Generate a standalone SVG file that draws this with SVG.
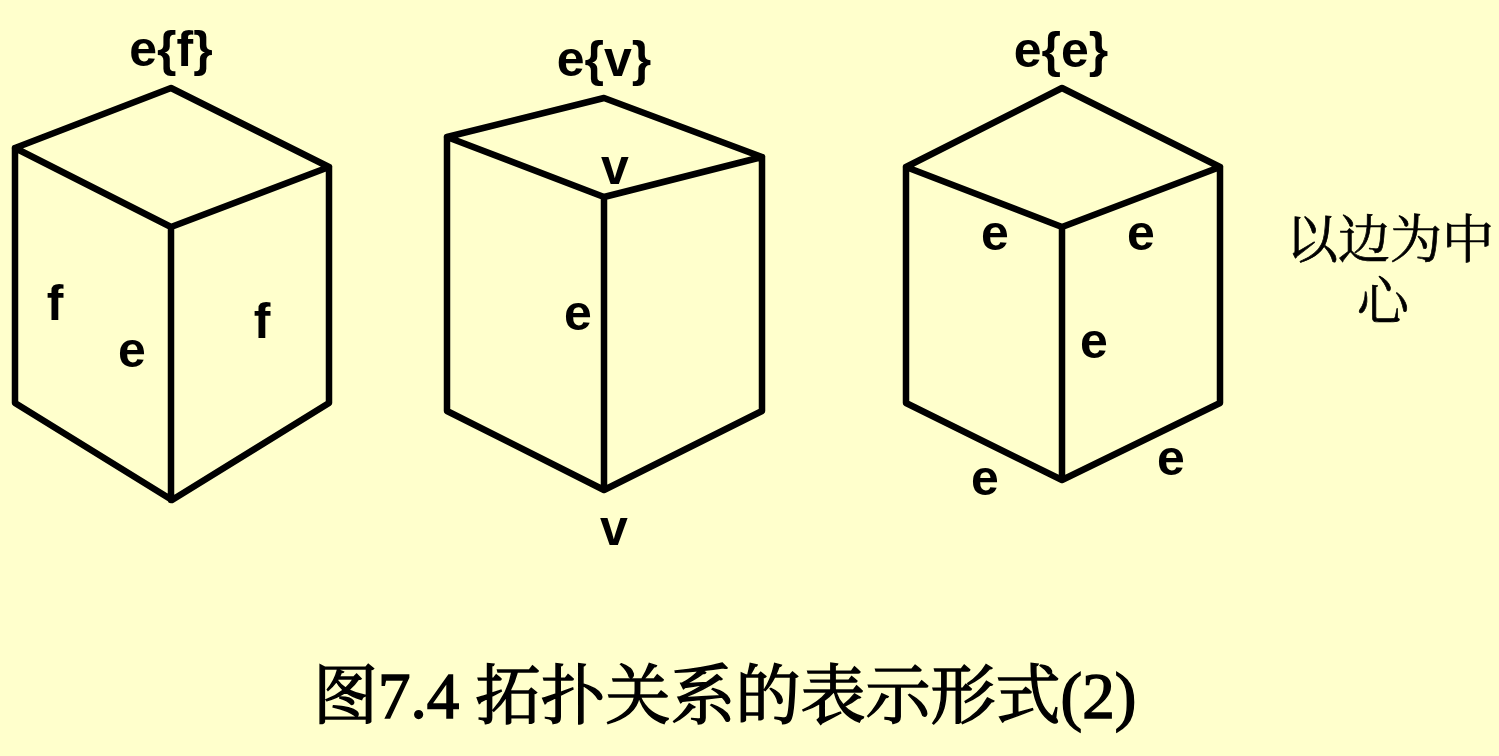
<svg xmlns="http://www.w3.org/2000/svg" width="1499" height="756" viewBox="0 0 1499 756">
<style>
.b{fill:none;stroke:#000;stroke-width:6.5;stroke-linejoin:round;stroke-linecap:round}
.l{font-family:"Liberation Sans",Arial,sans-serif;font-weight:700;font-size:50px;fill:#000;text-anchor:middle}
.c{font-family:"Liberation Serif","Noto Serif CJK SC","Noto Sans CJK SC",serif;font-size:52px;fill:#000;stroke:#000;stroke-width:.7}
.t{font-family:"Liberation Serif","Noto Serif CJK SC","Noto Sans CJK SC",serif;font-size:65px;fill:#000;stroke:#000;stroke-width:1.5}
</style>
<rect width="1499" height="756" fill="#ffffcc"/>
<g id="connectors">
<path id="box1" class="b" d="M15 148L171 88L329 167L171 227ZM15 148V403L172 500L329 403V167M171 227V500"/>
<path id="box2" class="b" d="M447 137L604 98L762 157L604 197ZM447 137V411L604 490L762 411V157M604 197V490"/>
<path id="box3" class="b" d="M906 167L1062 88L1220 167L1062 227ZM906 167V403L1062 480L1220 403V167M1062 227V480"/>
</g>
<g id="labels1">
<text class="l" x="171" y="66">e{f}</text>
<text class="l" x="55" y="320">f</text>
<text class="l" x="132" y="367">e</text>
<text class="l" x="262" y="338">f</text>
</g>
<g id="labels2">
<text class="l" x="604" y="76">e{v}</text>
<text class="l" x="615" y="184">v</text>
<text class="l" x="578" y="330">e</text>
<text class="l" x="614" y="545">v</text>
</g>
<g id="labels3">
<text class="l" x="1061" y="67">e{e}</text>
<text class="l" x="995" y="250">e</text>
<text class="l" x="1141" y="250">e</text>
<text class="l" x="1094" y="358">e</text>
<text class="l" x="1171" y="475">e</text>
<text class="l" x="985" y="495">e</text>
</g>
<g id="note">
<text class="c" x="1286" y="258">以边为中</text>
<text class="c" x="1357" y="320">心</text>
</g>
<g id="caption">
<text class="t" x="313" y="718">图7.4 拓扑关系的表示形式(2)</text>
</g>
</svg>
